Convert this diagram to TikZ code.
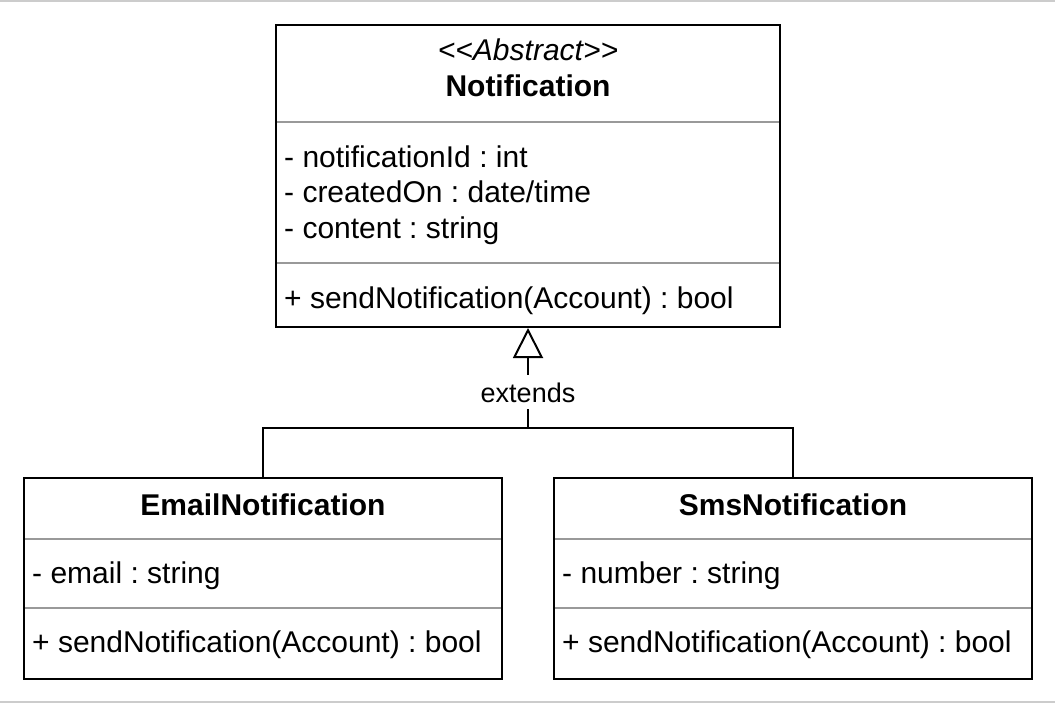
\documentclass[tikz,border=0pt]{standalone}
\usepackage{fontspec}
\setmainfont{Liberation Sans}
\usetikzlibrary{arrows.meta}
\frenchspacing
\begin{document}
\begin{tikzpicture}[x=1pt,y=-1pt,
  classbox/.style={draw=black, line width=2pt, fill=white, inner sep=0pt},
  sepline/.style={draw=black!40, line width=2pt},
  attr/.style={inner sep=0pt, anchor=base west, font=\fontsize{30}{36}\selectfont\frenchspacing},
  ttl/.style={inner sep=0pt, anchor=base, font=\fontsize{30}{36}\selectfont\bfseries},
  stereo/.style={inner sep=0pt, anchor=base, font=\fontsize{30}{36}\selectfont\itshape},
  conn/.style={draw=black, line width=2pt},
  lbl/.style={fill=white, anchor=base, inner xsep=2pt, inner ysep=7pt, text height=20pt, text depth=0pt, font=\fontsize{27}{32}\selectfont},
  frameline/.style={draw=black!20, line width=1.5pt}]
\useasboundingbox (0,0) rectangle (1055,704);
\draw[frameline] (0,0.75) -- (1055,0.75);
\draw[frameline] (0,702) -- (1055,702);

% class boxes
\node[classbox, minimum width=504pt, minimum height=302pt] (notif) at (528,176) {};
\node[classbox, minimum width=478pt, minimum height=201pt] (email) at (263,578.5) {};
\node[classbox, minimum width=478pt, minimum height=201pt] (sms) at (793,578.5) {};

% separators
\draw[sepline] (277,122) -- (779,122);
\draw[sepline] (277,263) -- (779,263);
\draw[sepline] (25,539) -- (501,539);
\draw[sepline] (25,608) -- (501,608);
\draw[sepline] (555,539) -- (1031,539);
\draw[sepline] (555,608) -- (1031,608);

% Notification texts
\node[stereo] (nstereo) at (528,60) {<{}<Abstract>{}>};
\node[ttl] (ntitle) at (528,96) {Notification};
\node[attr] (na1) at (284,167) {- notificationId : int};
\node[attr] (na2) at (284,202) {- createdOn : date/time};
\node[attr] (na3) at (284,238) {- content : string};
\node[attr] (nm1) at (284,308) {+ sendNotification(Account) : bool};

% EmailNotification texts
\node[ttl] (etitle) at (263,515) {EmailNotification};
\node[attr] (ea1) at (32,583) {- email : string};
\node[attr] (em1) at (32,652) {+ sendNotification(Account) : bool};

% SmsNotification texts
\node[ttl] (stitle) at (793,515) {SmsNotification};
\node[attr] (sa1) at (562,583) {- number : string};
\node[attr] (sm1) at (562,652) {+ sendNotification(Account) : bool};

% generalization
\coordinate (join) at (528,427.5);
\draw[conn] (email.north) |- (join) -| (sms.north);
\draw[conn, -{Triangle[open, length=30pt, width=30pt]}] (join) -- (notif.south);
\node[lbl] (ext) at (528,402) {extends};
\end{tikzpicture}
\end{document}
